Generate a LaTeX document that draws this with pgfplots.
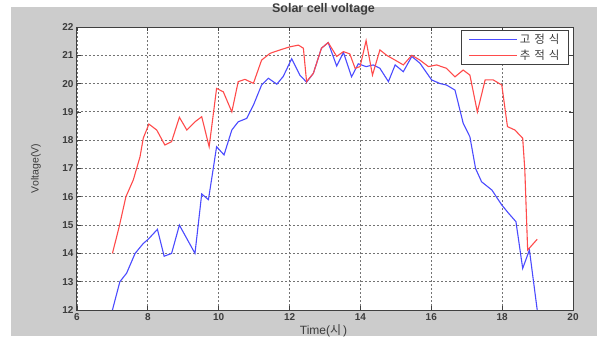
\documentclass[border=0pt]{standalone}
\usepackage{pgfplots}
\pgfplotsset{compat=1.18}
\usepackage{fontspec}
\setmainfont{Liberation Sans}
\newfontfamily\kr{Noto Sans CJK KR}
\newfontfamily\krsp[LetterSpace=35]{Noto Sans CJK KR}
\usetikzlibrary{backgrounds}
\definecolor{figgray}{RGB}{204,204,204}
\definecolor{lblue}{RGB}{75,75,255}
\definecolor{lred}{RGB}{255,75,75}
\definecolor{txt}{RGB}{60,60,60}
\pgfplotsset{
  legblue/.style={legend image code/.code={\draw[lblue, line width=1pt] (0pt,0pt) -- (48pt,0pt);}},
  legred/.style={legend image code/.code={\draw[lred, line width=1pt] (0pt,0pt) -- (48pt,0pt);}},
}
\begin{document}
\begin{tikzpicture}
\useasboundingbox (-77pt,-28pt) rectangle (526pt,310pt);
\begin{axis}[
  scale only axis,
  width=496pt, height=283pt,
  xmin=6, xmax=20, ymin=12, ymax=22,
  xtick={6,8,...,20}, ytick={12,13,...,22},
  tick align=inside,
  major tick length=4pt,
  grid=major,
  major grid style={black!55, dash pattern=on 2pt off 2pt, line width=0.9pt},
  axis line style={black!75, line width=1pt},
  axis background/.style={fill=white},
  tick style={black!75, line width=0.8pt},
  ticklabel style={font=\fontsize{10}{11}\selectfont\bfseries, text=txt},
  /pgf/number format/assume math mode=true,
  title={Solar cell voltage},
  title style={at={(axis description cs:0.497,1.042)}, anchor=center, font=\fontsize{12.5}{14}\selectfont\bfseries, text=txt},
  xlabel={Time({\kr 시}\,)},
  x label style={at={(axis description cs:0.497,-0.074)}, anchor=center, font=\fontsize{12}{13}\selectfont, text=txt},
  ylabel={Voltage(V)},
  y label style={at={(axis description cs:-0.083,0.5)}, anchor=center, font=\fontsize{10.5}{12}\selectfont, text=txt},
  legend style={at={(rel axis cs:1,1)}, anchor=north east, xshift=-4pt, yshift=-3pt,
    draw=black!75, line width=0.9pt, font=\fontsize{11.5}{13}\selectfont\krsp, text=txt,
    inner xsep=7pt, inner ysep=1.5pt, row sep=1pt},
  legend cell align=left,
]
\addplot[lblue, line width=1.1pt, legblue] coordinates {
(7.0,12.0) (7.21,13.0) (7.40,13.3) (7.64,14.0) (7.87,14.35) (8.01,14.5)
(8.27,14.85) (8.46,13.9) (8.67,14.0) (8.89,15.0) (9.33,14.0) (9.52,16.1)
(9.71,15.9) (9.84,16.95) (9.94,17.77) (10.15,17.48) (10.37,18.36) (10.55,18.65)
(10.79,18.77) (10.98,19.24) (11.21,19.95) (11.40,20.19) (11.64,19.98) (11.82,20.25)
(12.06,20.88) (12.29,20.3) (12.48,20.05) (12.67,20.36) (12.90,21.25) (13.09,21.45)
(13.33,20.62) (13.52,21.1) (13.75,20.24) (13.94,20.7) (14.16,20.6) (14.36,20.66)
(14.55,20.54) (14.79,20.07) (14.98,20.66) (15.21,20.42) (15.45,20.96) (15.68,20.72)
(16.01,20.13) (16.25,20.0) (16.43,19.95) (16.67,19.77) (16.90,18.6) (17.09,18.12)
(17.25,17.0) (17.42,16.53) (17.71,16.24) (17.99,15.71) (18.18,15.42) (18.39,15.12)
(18.58,13.47) (18.77,14.12) (18.99,12.0)
};
\addlegendentry{고정식}
\addplot[lred, line width=1.1pt, legred] coordinates {
(7.0,14.0) (7.19,14.94) (7.38,16.0) (7.59,16.6) (7.78,17.42) (7.87,18.07)
(8.03,18.57) (8.25,18.36) (8.48,17.83) (8.67,17.95) (8.89,18.81) (9.10,18.36)
(9.33,18.65) (9.52,18.83) (9.73,17.77) (9.94,19.83) (10.13,19.71) (10.37,19.0)
(10.55,20.07) (10.74,20.15) (10.98,20.01) (11.21,20.83) (11.45,21.07) (11.73,21.19)
(12.01,21.3) (12.25,21.36) (12.39,21.25) (12.48,20.07) (12.67,20.36) (12.90,21.25)
(13.09,21.45) (13.33,20.96) (13.52,21.13) (13.70,21.05) (13.85,20.54) (13.99,20.6)
(14.16,21.52) (14.34,20.3) (14.55,21.19) (14.74,21.0) (14.98,20.83) (15.21,20.66)
(15.45,21.0) (15.68,20.83) (15.92,20.6) (16.15,20.66) (16.43,20.54) (16.67,20.24)
(16.90,20.48) (17.09,20.3) (17.30,19.0) (17.52,20.13) (17.75,20.13) (17.99,19.95)
(18.15,18.48) (18.36,18.36) (18.58,18.07) (18.64,16.95) (18.72,14.12) (18.99,14.5)
};
\addlegendentry{추적식}
\end{axis}
\begin{scope}[on background layer]
\fill[figgray] (-66pt,-26pt) rectangle (520pt,303pt);
\end{scope}
\end{tikzpicture}
\end{document}
